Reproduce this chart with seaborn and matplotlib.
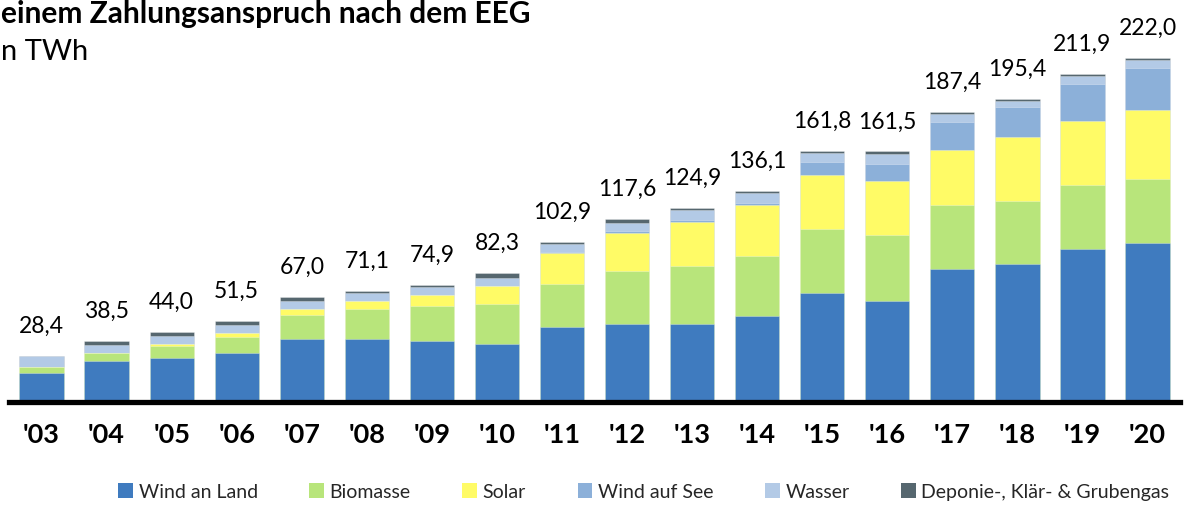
import numpy as np
import pandas as pd
import matplotlib
matplotlib.use("Agg")
import matplotlib.pyplot as plt
from matplotlib.patches import Patch
import seaborn as sns

years = ["'03", "'04", "'05", "'06", "'07", "'08", "'09", "'10", "'11",
         "'12", "'13", "'14", "'15", "'16", "'17", "'18", "'19", "'20"]
wind_land = [17.6, 25.3, 27.0, 30.6, 39.5, 39.6, 38.2, 36.6, 47.2,
             49.2, 49.5, 54.7, 69.8, 64.5, 85.2, 88.1, 98.2, 102.2]
biomasse = [4.0, 5.1, 7.8, 10.4, 15.6, 19.3, 23.2, 25.7, 28.5,
            34.8, 37.7, 38.6, 41.5, 42.7, 41.6, 41.5, 41.4, 41.4]
solar = [0.1, 0.3, 1.3, 2.8, 4.1, 5.5, 6.6, 11.8, 19.7,
         24.7, 28.7, 33.7, 34.9, 34.9, 35.9, 41.1, 41.4, 45.0]
wind_see = [0.0, 0.0, 0.0, 0.0, 0.0, 0.0, 0.0, 0.0, 0.8,
            1.3, 1.1, 1.3, 8.6, 11.2, 18.0, 19.5, 24.4, 27.1]
wasser = [6.7, 5.3, 5.3, 5.1, 5.1, 5.3, 5.5, 5.5, 5.4,
          5.2, 6.6, 6.5, 5.7, 6.5, 5.2, 4.2, 5.2, 5.2]
gas = [0.0, 2.5, 2.6, 2.6, 2.7, 1.4, 1.4, 2.7, 1.3,
       2.4, 1.3, 1.3, 1.3, 1.7, 1.5, 1.0, 1.3, 1.1]
totals = [28.4, 38.5, 44.0, 51.5, 67.0, 71.1, 74.9, 82.3, 102.9,
          117.6, 124.9, 136.1, 161.8, 161.5, 187.4, 195.4, 211.9, 222.0]
labels = ["28,4", "38,5", "44,0", "51,5", "67,0", "71,1", "74,9", "82,3", "102,9",
          "117,6", "124,9", "136,1", "161,8", "161,5", "187,4", "195,4", "211,9", "222,0"]

series_names = ["Wind an Land", "Biomasse", "Solar", "Wind auf See", "Wasser",
                "Deponie-, Klär- & Grubengas"]
series = [wind_land, biomasse, solar, wind_see, wasser, gas]
colors = ["#3F7BBF", "#B8E57B", "#FFFB66", "#8CB0D9", "#B3CAE6", "#56676F"]

sns.set_theme(style="white")
plt.rcParams["font.family"] = ["Lato", "DejaVu Sans"]

df = pd.DataFrame({"Jahr": years})
for name, vals in zip(series_names, series):
    df[name] = vals
cum = df[series_names].cumsum(axis=1)

fig = plt.figure(figsize=(11.99, 5.06), dpi=100)
ax = fig.add_axes([0.0075, 0.2026, 0.9767, 0.7381])

# draw cumulative bars from top layer down so lower layers overlay
for name, col in reversed(list(zip(series_names, colors))):
    sns.barplot(x=df["Jahr"], y=cum[name], color=col, width=0.68, ax=ax,
                edgecolor=(1, 1, 1, 0.35), linewidth=0.6, saturation=1)

ax.set_xlim(-0.5, 17.5)
ax.set_ylim(-1.6, 241.1)
for s in ["top", "right", "left"]:
    ax.spines[s].set_visible(False)
ax.spines["bottom"].set_linewidth(3.8)
ax.spines["bottom"].set_color("black")
ax.set_yticks([])
ax.set_xlabel("")
ax.set_ylabel("")
ax.tick_params(axis="x", length=0, pad=14)
for t in ax.get_xticklabels():
    t.set_fontsize(19.5)
    t.set_fontweight("bold")
    t.set_color("black")

for i, (tot, lab) in enumerate(zip(totals, labels)):
    ax.annotate(lab, (i, tot), xytext=(0, 22), textcoords="offset points",
                ha="center", va="center", fontsize=16.5, color="black")

handles = [Patch(facecolor=c, edgecolor="none") for c in colors]
fig.legend(handles, series_names, loc="center", bbox_to_anchor=(0.537, 0.026),
           ncol=6, frameon=False, fontsize=14, handlelength=0.75, handleheight=0.75,
           handletextpad=0.3, columnspacing=2.65)

fig.text(0.001, 0.972, "einem Zahlungsanspruch nach dem EEG", fontsize=21.5,
         fontweight="bold", ha="left", va="center", color="black")
fig.text(0.001, 0.898, "n TWh", fontsize=21, ha="left", va="center", color="black")

fig.savefig("out.png", dpi=100)
